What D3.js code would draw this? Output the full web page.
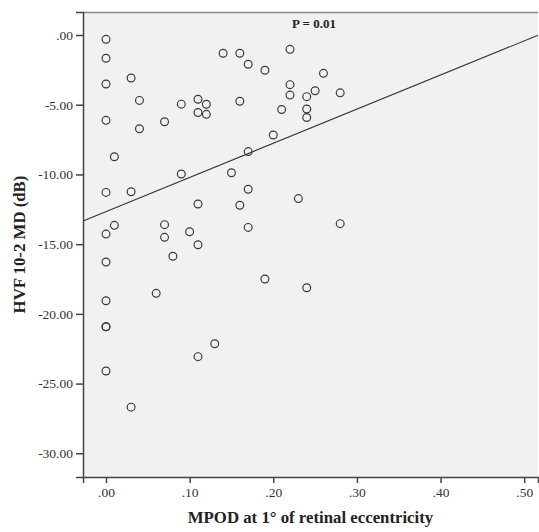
<!DOCTYPE html>
<html>
<head>
<meta charset="utf-8">
<script src="https://cdn.jsdelivr.net/npm/d3@7"></script>
<style>
  body { margin: 0; background: #fff; }
  text { font-family: 'Liberation Serif', 'Times New Roman', serif; }
</style>
</head>
<body>
<div id="chart"></div>
<script>
// MPOD (x) vs HVF 10-2 MD (y)
let mpod = [
  0, 0, 0, 0, 0, 0, 0, 0, 0, 0, 0,
  0.01, 0.01,
  0.03, 0.03, 0.03,
  0.04, 0.04,
  0.06,
  0.07, 0.07, 0.07,
  0.08,
  0.09, 0.09,
  0.10,
  0.11, 0.11, 0.11, 0.11, 0.11,
  0.12, 0.12,
  0.13,
  0.14,
  0.15,
  0.16, 0.16, 0.16,
  0.17, 0.17, 0.17, 0.17,
  0.19, 0.19,
  0.20,
  0.21,
  0.22, 0.22, 0.22,
  0.23,
  0.24, 0.24, 0.24, 0.24,
  0.25,
  0.26,
  0.28, 0.28
]
let md = [
  -0.31, -1.67, -3.51, -6.12, -11.29, -14.28, -16.28, -19.06, -20.92, -20.92, -24.1,
  -8.73, -13.65,
  -3.08, -11.24, -26.69,
  -4.69, -6.72,
  -18.53,
  -6.22, -13.6, -14.51,
  -15.87,
  -4.96, -9.97,
  -14.11,
  -4.61, -5.56, -12.12, -15.04, -23.07,
  -4.97, -5.69,
  -22.14,
  -1.31,
  -9.88,
  -1.31, -4.75, -12.21,
  -2.1, -8.36, -11.06, -13.8,
  -2.53, -17.5,
  -7.17,
  -5.34,
  -1.03, -3.56, -4.31,
  -11.73,
  -4.42, -5.31, -5.92, -18.13,
  -4.0,
  -2.75,
  -4.15, -13.53
]
let xTicks = [0, 0.1, 0.2, 0.3, 0.4, 0.5]
let yTicks = [0, -5, -10, -15, -20, -25, -30]
let fitIntercept = -12.67
let fitSlope = 24.5
let pLabel = 'P = 0.01'

let margin = { top: 12, left: 83, right: 1, bottom: 55 }
let width = 539 - margin.left - margin.right
let height = 532 - margin.top - margin.bottom

let svg = d3
  .select('#chart')
  .append('svg')
  .attr('width', 539)
  .attr('height', 532)
  .append('g')
  .attr('transform', 'translate(' + margin.left + ',' + margin.top + ')')

let xPositionScale = d3.scaleLinear().domain([-0.0275, 0.5165]).range([0, width])
let yPositionScale = d3.scaleLinear().domain([1.65, -31.7]).range([0, height])

// SPSS style: ".00", "-5.00"
let fmt = d => d.toFixed(2).replace(/^(-?)0\./, '$1.')

svg
  .append('rect')
  .attr('width', width)
  .attr('height', height)
  .attr('fill', '#f0f1f0')

svg
  .append('line')
  .attr('x1', 0)
  .attr('x2', width)
  .attr('y1', 0.5)
  .attr('y2', 0.5)
  .attr('stroke', '#888')
  .attr('stroke-width', 1.5)

// fit line
let xDomain = xPositionScale.domain()
svg
  .append('line')
  .attr('x1', xPositionScale(xDomain[0]))
  .attr('y1', yPositionScale(fitIntercept + fitSlope * xDomain[0]))
  .attr('x2', xPositionScale(xDomain[1]))
  .attr('y2', yPositionScale(fitIntercept + fitSlope * xDomain[1]))
  .attr('stroke', '#333')
  .attr('stroke-width', 1.1)

svg
  .selectAll('.pt')
  .data(d3.range(mpod.length))
  .enter()
  .append('circle')
  .attr('class', 'pt')
  .attr('cx', i => xPositionScale(mpod[i]))
  .attr('cy', i => yPositionScale(md[i]))
  .attr('r', 3.9)
  .attr('fill', 'none')
  .attr('stroke', '#3a3a3a')
  .attr('stroke-width', 1.2)

svg
  .append('text')
  .attr('x', 231)
  .attr('y', 15.5)
  .attr('text-anchor', 'middle')
  .attr('font-size', 13)
  .attr('font-weight', 'bold')
  .attr('fill', '#222')
  .text(pLabel)

let xAxis = d3.axisBottom(xPositionScale).tickValues(xTicks).tickFormat(fmt).tickSize(6).tickPadding(4)
let yAxis = d3.axisLeft(yPositionScale).tickValues(yTicks).tickFormat(fmt).tickSize(7).tickPadding(3)

svg
  .append('g')
  .attr('class', 'axis x-axis')
  .attr('transform', 'translate(0,' + height + ')')
  .call(xAxis)

svg
  .append('g')
  .attr('class', 'axis y-axis')
  .call(yAxis)

svg.selectAll('.axis .domain').attr('stroke', '#444').attr('stroke-width', 1.5)
svg.selectAll('.axis .tick line').attr('stroke', '#444').attr('stroke-width', 1.5)
svg
  .selectAll('.axis text')
  .attr('font-family', "'Liberation Serif', serif")
  .attr('font-size', 13.5)
  .attr('fill', '#333')

svg
  .append('text')
  .attr('x', width / 2)
  .attr('y', height + 46)
  .attr('text-anchor', 'middle')
  .attr('font-size', 16.8)
  .attr('font-weight', 'bold')
  .attr('fill', '#222')
  .text('MPOD at 1° of retinal eccentricity')

svg
  .append('text')
  .attr('transform', 'translate(' + (-58) + ',' + height / 2 + ') rotate(-90)')
  .attr('text-anchor', 'middle')
  .attr('font-size', 16.8)
  .attr('font-weight', 'bold')
  .attr('fill', '#222')
  .text('HVF 10-2 MD (dB)')
</script>
</body>
</html>
